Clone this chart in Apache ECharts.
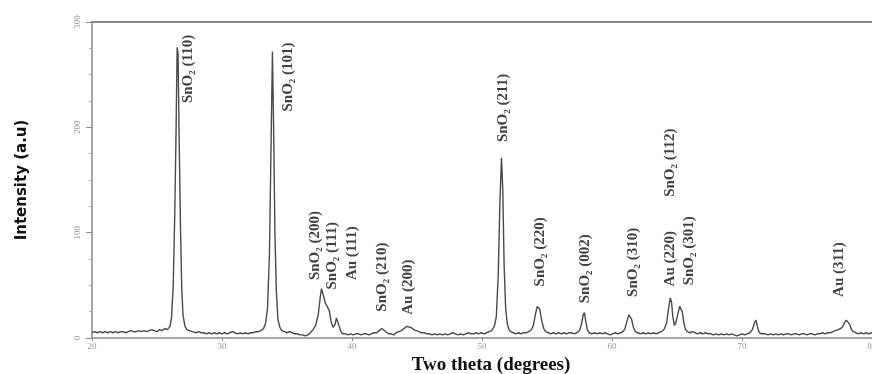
<!DOCTYPE html>
<html>
<head>
<meta charset="utf-8">
<script src="https://cdn.jsdelivr.net/npm/echarts@6/dist/echarts.min.js"></script>
<style>html,body{margin:0;padding:0;background:#fff}#c{width:872px;height:374px}</style>
</head>
<body>
<div id="c"></div>
<script>
// XRD pattern: [2θ (degrees), intensity (a.u)]
var xrdPattern = [
[20.0,5],[20.2,6],[20.4,5],[20.6,6],[20.8,5],[21.0,6],[21.2,5],[21.4,6],[21.6,5],[21.8,6],[22.0,5],[22.2,6],[22.4,6],[22.6,5],[22.8,6],[23.0,7],[23.2,6],[23.4,6],[23.6,7],[23.8,6],[24.0,7],[24.2,6],[24.4,7],[24.6,8],[24.8,7],[25.0,6],[25.2,8],[25.4,7],[25.6,9],[25.8,8],[26.0,11],[26.12,20],[26.25,50],[26.37,120],[26.47,200],[26.55,276],[26.62,270],[26.7,195],[26.8,110],[26.9,48],[27.0,22],[27.15,11],[27.3,8],[27.5,7],[27.7,6],
[28.0,5],[28.2,6],[28.4,5],[28.6,5],[28.8,4],[29.0,5],[29.2,4],[29.4,5],[29.6,4],[29.8,5],[30.0,4],[30.2,5],[30.4,4],[30.6,5],[30.8,6],[31.0,5],[31.2,4],[31.4,5],[31.6,4],[31.8,5],[32.0,4],[32.2,5],[32.4,5],[32.6,6],[32.8,6],[33.0,7],[33.2,9],[33.35,14],[33.5,28],[33.65,80],[33.77,180],[33.88,272],[33.97,200],[34.07,100],[34.18,45],[34.3,18],[34.45,10],[34.6,7],[34.8,6],[35.0,5],[35.2,6],[35.4,5],[35.6,4],[35.8,4],[36.0,3],[36.2,3],[36.4,2],[36.6,3],[36.8,5],[37.0,8],[37.2,12],[37.4,22],[37.55,38],[37.65,47],[37.75,48],[37.85,38],[37.95,33],[38.05,31],[38.15,32],[38.25,26],[38.4,15],[38.55,10],[38.7,13],[38.8,19],[38.9,20],[39.0,12],[39.15,6],[39.3,4],[39.5,4],[39.7,3],[39.9,4],
[40.1,3],[40.3,4],[40.5,4],[40.7,3],[40.9,4],[41.1,4],[41.3,3],[41.5,4],[41.7,5],[41.9,5],[42.1,7],[42.3,9],[42.45,8],[42.6,6],[42.8,4],[43.0,4],[43.2,3],[43.4,5],[43.6,6],[43.8,7],[44.0,9],[44.2,11],[44.35,12],[44.55,10],[44.75,8],[44.95,7],[45.15,6],[45.35,5],[45.55,5],[45.75,4],[45.95,4],[46.15,3],[46.35,4],[46.55,3],[46.75,4],[46.95,3],[47.15,4],[47.35,3],[47.55,4],[47.75,5],[47.95,4],[48.15,3],[48.35,4],[48.55,3],[48.75,4],[48.95,5],[49.15,4],[49.35,4],[49.55,5],[49.75,4],[49.95,5],
[50.15,4],[50.35,5],[50.55,6],[50.75,7],[50.95,11],[51.1,20],[51.25,60],[51.38,130],[51.5,171],[51.6,140],[51.7,70],[51.82,28],[51.95,13],[52.08,8],[52.2,6],[52.4,5],[52.6,4],[52.8,5],[53.0,4],[53.2,5],[53.4,5],[53.6,6],[53.8,8],[53.95,12],[54.1,22],[54.25,30],[54.35,31],[54.45,27],[54.6,16],[54.75,9],[54.9,6],[55.1,5],[55.3,4],[55.5,5],[55.7,4],[55.9,5],[56.1,4],[56.3,5],[56.5,4],[56.7,5],[56.9,5],[57.1,4],[57.3,5],[57.5,7],[57.65,13],[57.78,22],[57.88,24],[57.98,16],[58.1,8],[58.25,5],[58.45,4],[58.65,5],[58.85,4],[59.05,5],[59.25,4],[59.45,5],[59.65,4],[59.85,3],
[60.05,4],[60.25,5],[60.45,4],[60.65,5],[60.85,6],[61.0,9],[61.15,16],[61.3,22],[61.4,23],[61.5,18],[61.65,10],[61.8,6],[62.0,5],[62.2,4],[62.4,5],[62.6,4],[62.8,5],[63.0,4],[63.2,5],[63.4,4],[63.6,5],[63.8,6],[64.0,8],[64.2,14],[64.35,28],[64.48,38],[64.58,34],[64.68,20],[64.8,12],[64.9,14],[65.05,22],[65.2,30],[65.3,30],[65.4,25],[65.52,15],[65.65,8],[65.8,6],[66.0,5],[66.2,6],[66.4,5],[66.6,4],[66.8,5],[67.0,4],[67.2,5],[67.4,4],[67.6,4],[67.8,3],[68.0,4],[68.2,3],[68.4,4],[68.6,3],[68.8,4],[69.0,3],[69.2,4],[69.4,3],[69.6,2],[69.8,3],
[70.0,4],[70.2,3],[70.4,4],[70.6,5],[70.8,8],[70.95,14],[71.08,17],[71.18,11],[71.3,6],[71.45,4],[71.6,3],[71.8,4],[72.0,3],[72.2,4],[72.4,3],[72.6,4],[72.8,3],[73.0,4],[73.2,3],[73.4,4],[73.6,4],[73.8,3],[74.0,4],[74.2,4],[74.4,3],[74.6,4],[74.8,4],[75.0,3],[75.2,4],[75.4,4],[75.6,3],[75.8,4],[76.0,4],[76.2,5],[76.4,4],[76.6,5],[76.8,5],[77.0,6],[77.2,7],[77.4,8],[77.6,9],[77.75,11],[77.9,15],[78.03,17],[78.15,17],[78.28,13],[78.42,8],[78.57,6],[78.75,5],[78.95,4],[79.15,5],[79.35,4],[79.55,5],[79.75,4],[80.0,5]
];

// Peak annotations
var peakLabels = ['SnO₂ (110)','SnO₂ (101)','SnO₂ (200)','SnO₂ (111)','Au (111)','SnO₂ (210)','Au (200)','SnO₂ (211)','SnO₂ (220)','SnO₂ (002)','SnO₂ (310)','Au (220)','SnO₂ (112)','SnO₂ (301)','Au (311)'];
var peakLabelX = [27.4, 35.1, 37.2, 38.5, 40.0, 42.35, 44.35, 51.6, 54.45, 57.9, 61.6, 64.5, 64.5, 65.9, 77.45];
var peakLabelY = [223, 215, 55, 46, 55, 25, 22, 186, 49, 33, 39, 49, 134, 50, 39];

// Axis ticks
var xTicks = {min: 20, max: 80, interval: 10};
var yTicks = {min: 0, max: 300, interval: 100};

var labelData = peakLabels.map(function (t, i) {
  return {name: t, value: [peakLabelX[i], peakLabelY[i]]};
});

var chart = echarts.init(document.getElementById('c'), null, {renderer: 'canvas'});
var axisGray = '#8a8a8a';
var tickFont = {color: '#9a9a9a', fontSize: 9, fontFamily: 'Liberation Serif, serif'};

chart.setOption({
  animation: false,
  backgroundColor: '#fff',
  grid: {left: 92, right: 0, top: 22, bottom: 36, containLabel: false, outerBoundsMode: 'none'},
  xAxis: [{
    type: 'value', min: xTicks.min, max: xTicks.max, interval: xTicks.interval,
    axisLine: {show: true, lineStyle: {color: axisGray, width: 1.5}},
    axisTick: {show: true, length: 3, lineStyle: {color: axisGray}},
    splitLine: {show: false},
    axisLabel: Object.assign({margin: 4}, tickFont),
    name: 'Two theta (degrees)', nameLocation: 'middle', nameGap: 13,
    nameTextStyle: {fontFamily: 'Liberation Serif, serif', fontWeight: 'bold', fontSize: 19, color: '#111', padding: [0, 0, 0, 18]}
  }, {
    type: 'value', position: 'top', min: xTicks.min, max: xTicks.max,
    axisLine: {show: true, onZero: false, lineStyle: {color: axisGray, width: 2}},
    axisTick: {show: false}, axisLabel: {show: false}, splitLine: {show: false}
  }],
  yAxis: {
    type: 'value', min: yTicks.min, max: yTicks.max, interval: yTicks.interval,
    axisLine: {show: true, lineStyle: {color: axisGray, width: 1.5}},
    axisTick: {show: true, length: 6, lineStyle: {color: axisGray}},
    minorTick: {show: true, splitNumber: 4, length: 3, lineStyle: {color: '#aaa'}},
    splitLine: {show: false},
    axisLabel: Object.assign({rotate: 90, margin: 10}, tickFont),
    name: 'Intensity (a.u)', nameLocation: 'middle', nameGap: 62, nameRotate: 90,
    nameTextStyle: {fontFamily: 'DejaVu Sans, sans-serif', fontWeight: 'bold', fontSize: 15, color: '#111'}
  },
  series: [{
    type: 'line', data: xrdPattern, showSymbol: false, symbol: 'none',
    lineStyle: {color: '#4a4a4a', width: 1.4}, z: 3, silent: true
  }, {
    type: 'scatter', data: labelData, symbolSize: 0, silent: true, z: 5,
    label: {
      show: true, formatter: '{b}', position: [0, 0], rotate: 90,
      align: 'left', verticalAlign: 'middle',
      fontFamily: 'Liberation Serif, serif', fontWeight: 'bold', fontSize: 15, color: '#111'
    }
  }]
});
</script>
</body>
</html>
